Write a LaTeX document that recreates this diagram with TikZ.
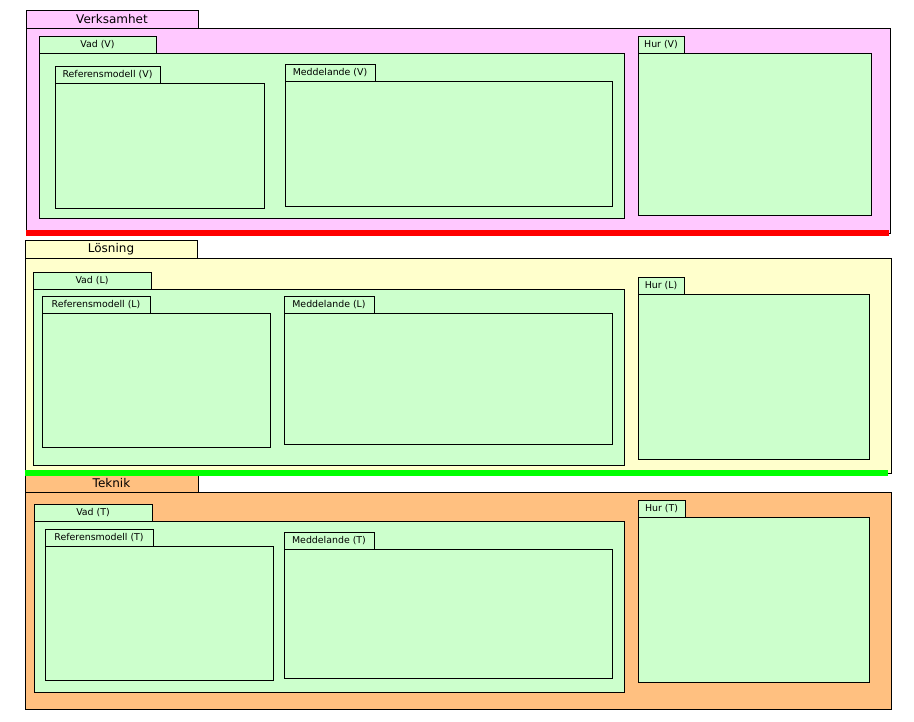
\documentclass[tikz,border=0pt]{standalone}
\usepackage{fontspec}
\setmainfont{DejaVu Sans}
\usepackage{tikz}
\usetikzlibrary{positioning}
\definecolor{pinkpkg}{RGB}{255,200,255}
\definecolor{yellowpkg}{RGB}{255,255,204}
\definecolor{orangepkg}{RGB}{255,192,128}
\definecolor{greenpkg}{RGB}{204,255,204}
\def\pkg[#1](#2)(#3,#4)(#5:#6:#7)#8% Syntax: [options] (name) (body top left) (width:height:tab width) {label}
{ \node[pkgbody,#1,minimum width=#5,minimum height=#6] (#2) at (#3,#4) {};
  \node[pkgtab,#1,minimum width=#7,above right=0pt and 0pt of #2.north west] (#2-tab) {#8}; }

\begin{document}
\begin{tikzpicture}[x=1pt,y=-1pt,
	pkgbody/.style={draw,line width=0.8pt,anchor=north west,inner sep=0pt,outer sep=0pt},
	pkgtab/.style={draw,line width=0.8pt,inner sep=0pt,outer sep=0pt,minimum height=17,font=\fontsize{9.4}{10}\selectfont},
	toplevel/.style={minimum height=18,font=\fontsize{12}{13}\selectfont},
	sepline/.style={line width=6pt}]
	\useasboundingbox (0,0) rectangle (914,722);
	
	%Verksamhet
	\pkg[fill=pinkpkg,toplevel](verk)(26,28)(864:205:172){Verksamhet}
	\pkg[fill=greenpkg](vadV)(39,53)(585:165:117){Vad (V)}
	\pkg[fill=greenpkg](refV)(55,83)(209:125:105){Referensmodell (V)}
	\pkg[fill=greenpkg](medV)(285,81)(327:125:90){Meddelande (V)}
	\pkg[fill=greenpkg](hurV)(638,53)(233:162:46){Hur (V)}
	
	%Lösning
	\pkg[fill=yellowpkg,toplevel](los)(25,258)(866:215:172){Lösning}
	\pkg[fill=greenpkg](vadL)(33,289)(591:176:118){Vad (L)}
	\pkg[fill=greenpkg](refL)(42,313)(228:134:108){Referensmodell (L)}
	\pkg[fill=greenpkg](medL)(284,313)(328:131:90){Meddelande (L)}
	\pkg[fill=greenpkg](hurL)(638,294)(231:165:46){Hur (L)}
	
	%Teknik
	\pkg[fill=orangepkg,toplevel](tek)(25,492)(866:217:173){Teknik}
	\pkg[fill=greenpkg](vadT)(34,521)(590:171:118){Vad (T)}
	\pkg[fill=greenpkg](refT)(45,546)(228:134:108){Referensmodell (T)}
	\pkg[fill=greenpkg](medT)(284,549)(328:129:90){Meddelande (T)}
	\pkg[fill=greenpkg](hurT)(638,517)(231:165:47){Hur (T)}
	
	%separators
	\draw[sepline,red] (verk.south west) -- ([xshift=-1pt]verk.south east);
	\draw[sepline,green] (los.south west) -- ([xshift=-3pt]los.south east);
\end{tikzpicture}
\end{document}
